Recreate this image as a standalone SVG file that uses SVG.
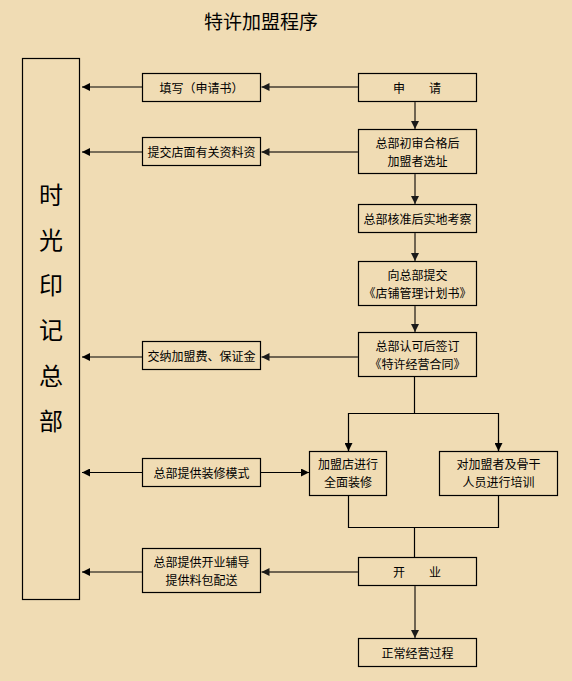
<svg xmlns="http://www.w3.org/2000/svg" width="572" height="681" viewBox="0 0 572 681">
<defs>
<style>
.box{fill:none;stroke:#000;stroke-width:1.2}
.t{font-family:"Noto Sans CJK SC","Noto Sans CJK JP",sans-serif;font-size:12px;fill:#000;text-anchor:middle;dominant-baseline:central}
.big{font-family:"Noto Sans CJK SC","Noto Sans CJK JP",sans-serif;font-size:24px;fill:#000;text-anchor:middle;dominant-baseline:central}
.title{font-family:"Noto Sans CJK SC","Noto Sans CJK JP",sans-serif;font-size:19px;fill:#000;text-anchor:middle;dominant-baseline:central}
.k{fill:none;stroke:#000;stroke-width:1.2}
.b{fill:none;stroke:#6f6451;stroke-width:2}
</style>
<marker id="ak" markerUnits="userSpaceOnUse" markerWidth="9" markerHeight="8" refX="8" refY="4" orient="auto"><path d="M0,0 L8,4 L0,8 z" fill="#000"/></marker>
<marker id="ab" markerUnits="userSpaceOnUse" markerWidth="9" markerHeight="8" refX="8" refY="4" orient="auto"><path d="M0,0 L8,4 L0,8 z" fill="#1a1a1a"/></marker>
</defs>
<rect width="572" height="681" fill="#F0DCB4"/>
<text class="title" x="261" y="20">特许加盟程序</text>

<g id="hq">
<rect class="box" x="22.5" y="58.5" width="57" height="541"/>
<text class="big" x="51" y="193">时</text>
<text class="big" x="51" y="238">光</text>
<text class="big" x="51" y="283">印</text>
<text class="big" x="51" y="328">记</text>
<text class="big" x="51" y="374">总</text>
<text class="big" x="51" y="419">部</text>
</g>
<g id="n-fill"><rect class="box" x="142.5" y="73.5" width="118" height="28"/><text class="t" x="201.5" y="87.5">填写（申请书）</text></g>
<g id="n-apply"><rect class="box" x="358.5" y="73.5" width="118" height="28"/><text class="t" x="417" y="87.5">申　　请</text></g>
<g id="n-submit"><rect class="box" x="142.5" y="137.5" width="118" height="28"/><text class="t" x="201.5" y="151.5">提交店面有关资料资</text></g>
<g id="n-review"><rect class="box" x="358.5" y="129.5" width="118" height="44"/><text class="t" x="417.5" y="142">总部初审合格后</text><text class="t" x="417.5" y="160">加盟者选址</text></g>
<g id="n-inspect"><rect class="box" x="358.5" y="204.5" width="118" height="28"/><text class="t" x="417.5" y="218.5">总部核准后实地考察</text></g>
<g id="n-plan"><rect class="box" x="358.5" y="261.5" width="118" height="44"/><text class="t" x="417.5" y="274.5">向总部提交</text><text class="t" x="417.5" y="292.5">《店铺管理计划书》</text></g>
<g id="n-contract"><rect class="box" x="358.5" y="332.5" width="118" height="44"/><text class="t" x="417.5" y="345.5">总部认可后签订</text><text class="t" x="417.5" y="363.5">《特许经营合同》</text></g>
<g id="n-fee"><rect class="box" x="142.5" y="341.5" width="118" height="28"/><text class="t" x="201.5" y="355.5">交纳加盟费、保证金</text></g>
<g id="n-decor"><rect class="box" x="309.5" y="451.5" width="77" height="44"/><text class="t" x="348" y="463.5">加盟店进行</text><text class="t" x="348" y="481.5">全面装修</text></g>
<g id="n-train"><rect class="box" x="439.5" y="451.5" width="118" height="44"/><text class="t" x="498.5" y="463.5">对加盟者及骨干</text><text class="t" x="498.5" y="481.5">人员进行培训</text></g>
<g id="n-model"><rect class="box" x="142.5" y="458.5" width="118" height="28"/><text class="t" x="201.5" y="472.5">总部提供装修模式</text></g>
<g id="n-support"><rect class="box" x="142.5" y="548.5" width="118" height="44"/><text class="t" x="201.5" y="561">总部提供开业辅导</text><text class="t" x="201.5" y="579.5">提供料包配送</text></g>
<g id="n-open"><rect class="box" x="358.5" y="557.5" width="118" height="28"/><text class="t" x="417" y="571.5">开　　业</text></g>
<g id="n-normal"><rect class="box" x="358.5" y="638.5" width="118" height="28"/><text class="t" x="417.5" y="652.5">正常经营过程</text></g>

<g id="connectors">
<line class="b" x1="358" y1="87" x2="261.5" y2="87" marker-end="url(#ab)"/>
<line class="k" x1="142" y1="87" x2="82" y2="87" marker-end="url(#ak)"/>
<line class="b" x1="415" y1="102" x2="415" y2="129" marker-end="url(#ab)"/>
<line class="b" x1="358" y1="152" x2="261.5" y2="152" marker-end="url(#ab)"/>
<line class="k" x1="142" y1="152" x2="82" y2="152" marker-end="url(#ak)"/>
<line class="b" x1="415" y1="174" x2="415" y2="204" marker-end="url(#ab)"/>
<line class="b" x1="415" y1="233" x2="415" y2="261" marker-end="url(#ab)"/>
<line class="b" x1="415" y1="306" x2="415" y2="332" marker-end="url(#ab)"/>
<line class="b" x1="358" y1="357" x2="261.5" y2="357" marker-end="url(#ab)"/>
<line class="k" x1="142" y1="357" x2="82" y2="357" marker-end="url(#ak)"/>
<polyline class="k" points="414.5,377 414.5,413.5"/>
<polyline class="k" points="348.5,451 348.5,413.5 498.5,413.5 498.5,451"/>
<line class="k" x1="348.5" y1="440" x2="348.5" y2="451" marker-end="url(#ak)"/>
<line class="k" x1="498.5" y1="440" x2="498.5" y2="451" marker-end="url(#ak)"/>
<line class="k" x1="142" y1="472.5" x2="82" y2="472.5" marker-end="url(#ak)"/>
<line class="k" x1="261" y1="472.5" x2="309" y2="472.5" marker-end="url(#ak)"/>
<polyline class="k" points="348.5,496 348.5,527.5 498.5,527.5 498.5,496"/>
<line class="k" x1="414.5" y1="527.5" x2="414.5" y2="557"/>
<line class="b" x1="358" y1="572" x2="261.5" y2="572" marker-end="url(#ab)"/>
<line class="k" x1="142" y1="572" x2="82" y2="572" marker-end="url(#ak)"/>
<line class="b" x1="415" y1="586" x2="415" y2="638" marker-end="url(#ab)"/>
</g>
</svg>
